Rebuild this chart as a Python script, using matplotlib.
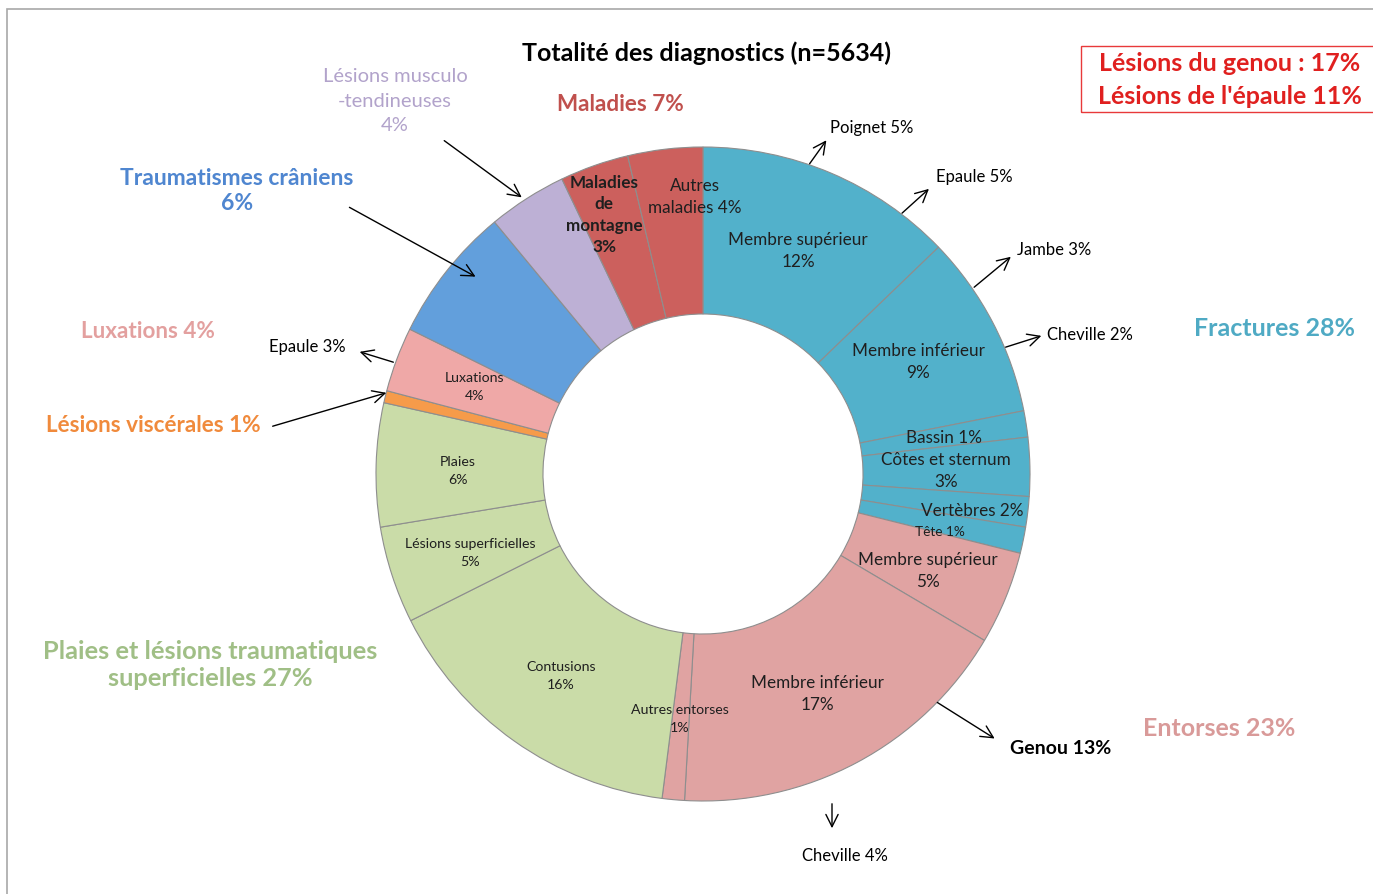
import matplotlib.pyplot as plt
import matplotlib.patches as mpatches

plt.rcParams['font.family'] = ['Lato', 'DejaVu Sans']

# Segment shares (%), clockwise from the top, as read from the ring
segments = ['Fr. membre supérieur', 'Fr. membre inférieur', 'Bassin', 'Côtes et sternum',
            'Vertèbres', 'Tête', 'Ent. membre supérieur', 'Ent. membre inférieur',
            'Autres entorses', 'Contusions', 'Lésions superficielles', 'Plaies',
            'Lésions viscérales', 'Luxations', 'Traumatismes crâniens',
            'Lésions musculo-tendineuses', 'Maladies de montagne', 'Autres maladies']
shares = [12.8, 9.1, 1.3, 2.9, 1.5, 1.3, 4.6, 17.4, 1.1, 15.6, 4.8, 6.1,
          0.6, 3.2, 6.7, 3.9, 3.4, 3.7]
groups = ['frac'] * 6 + ['ent'] * 3 + ['plaie'] * 3 + ['visc', 'lux', 'trauma', 'musc', 'mal', 'mal']

fill = {'frac': '#52B1CB', 'ent': '#E0A3A2', 'plaie': '#CADCA8', 'visc': '#F69B4A',
        'lux': '#EFA8A7', 'trauma': '#629FDC', 'musc': '#BDB0D5', 'mal': '#CC605D'}

W, H = 1373, 895


def Y(y):
    # pixel row -> data y
    return H - y


fig = plt.figure(figsize=(W / 100, H / 100), dpi=100)
ax = fig.add_axes([0, 0, 1, 1])

cx, cy, r_out, r_in = 703, 475, 327, 160
ax.pie(shares, colors=[fill[g] for g in groups], startangle=90, counterclock=False,
       radius=r_out, center=(cx, Y(cy)),
       wedgeprops=dict(width=r_out - r_in, edgecolor='#8E8E8E', linewidth=0.8))
ax.set_xlim(0, W)
ax.set_ylim(0, H)
ax.set_aspect('equal')
ax.axis('off')

# frame around the chart
ax.add_patch(mpatches.Rectangle((7, Y(900)), 1380, 890, fill=False, edgecolor='#A8A8A8', lw=1.2))

dark = '#1F1F1F'

# labels inside the ring
inner = [
    ('Autres\nmaladies 4%', 695, 197, 12.3, 'normal'),
    ('Maladies\nde\nmontagne\n3%', 604, 215, 12.3, 'bold'),
    ('Membre supérieur\n12%', 798, 251, 12.3, 'normal'),
    ('Membre inférieur\n9%', 918, 362, 12.3, 'normal'),
    ('Bassin 1%', 944, 438, 12.3, 'normal'),
    ('Côtes et sternum\n3%', 946, 471, 12.3, 'normal'),
    ('Vertèbres 2%', 972, 511, 12.3, 'normal'),
    ('Tête 1%', 940, 532, 9.8, 'normal'),
    ('Membre supérieur\n5%', 928, 571, 12.3, 'normal'),
    ('Membre inférieur\n17%', 817, 694, 12.3, 'normal'),
    ('Autres entorses\n1%', 680, 719, 10.2, 'normal'),
    ('Contusions\n16%', 561, 676, 10.2, 'normal'),
    ('Lésions superficielles\n5%', 470, 553, 10.2, 'normal'),
    ('Plaies\n6%', 458, 471, 10.2, 'normal'),
    ('Luxations\n4%', 475, 387, 10.2, 'normal'),
]
for txt, x, y, fs, fw in inner:
    ls = 1.4 if fs > 11 else 1.6
    ax.text(x, Y(y), txt, ha='center', va='center', fontsize=fs, fontweight=fw,
            color=dark, linespacing=ls)

# arrow call-outs: text, text pos, arrow start, arrow tip, alignment, weight, size
arr = dict(arrowstyle='->', color='black', lw=1.0, mutation_scale=22)
callouts = [
    ('Poignet 5%', 830, 128, 808, 167, 828, 139, 'left', 'normal', 12),
    ('Epaule 5%', 936, 177, 900, 216, 931, 188, 'left', 'normal', 12),
    ('Jambe 3%', 1017, 250, 972, 290, 1013, 256, 'left', 'normal', 12),
    ('Cheville 2%', 1047, 335, 1003, 349, 1044, 336, 'left', 'normal', 12),
    ('Genou 13%', 1010, 749, 935, 702, 997, 741, 'left', 'bold', 14),
    ('Cheville 4%', 845, 856, 832, 802, 832, 832, 'center', 'normal', 12),
    ('Epaule 3%', 346, 347, 396, 364, 357, 352, 'right', 'normal', 12),
]
for txt, tx, ty, x0, y0, x1, y1, ha, fw, fs in callouts:
    ax.text(tx, Y(ty), txt, ha=ha, va='center', fontsize=fs, fontweight=fw, color='black')
    ax.annotate('', xy=(x1, Y(y1)), xytext=(x0, Y(y0)), arrowprops=arr)

# group headings
ax.text(707, Y(53), 'Totalité des diagnostics (n=5634)', ha='center', va='center',
        fontsize=18, fontweight='bold', color='black')
heads = [
    ('Maladies 7%', 620, 104, '#C0504D', 16.2),
    ('Fractures 28%', 1274, 329, '#4FAAC4', 18),
    ('Entorses 23%', 1219, 729, '#D99A99', 18),
    ('Plaies et lésions traumatiques\nsuperficielles 27%', 210, 665, '#A0BF86', 18.3),
    ('Luxations 4%', 148, 331, '#E3A09F', 16.2),
    ('Traumatismes crâniens\n6%', 237, 191, '#4F86D0', 16.5),
    ('Lésions viscérales 1%', 153, 425, '#F08A3C', 16.2),
]
for txt, x, y, c, fs in heads:
    ax.text(x, Y(y), txt, ha='center', va='center', fontsize=fs, fontweight='bold',
            color=c, linespacing=1.25)
ax.text(395, Y(101), 'Lésions musculo\n-tendineuses\n4%', ha='center', va='center',
        fontsize=14.5, color='#B2A3CB', linespacing=1.55)

# head-line arrows
ax.annotate('', xy=(524, Y(200)), xytext=(442, Y(140)), arrowprops=arr)
ax.annotate('', xy=(478, Y(279)), xytext=(347, Y(207)), arrowprops=arr)
ax.annotate('', xy=(389, Y(393)), xytext=(270, Y(428)), arrowprops=arr)

# top-right box
ax.add_patch(mpatches.Rectangle((1081, Y(113)), 300, 66, fill=False, edgecolor='#E8393A', lw=1))
ax.text(1230, Y(63), 'Lésions du genou : 17%', ha='center', va='center', fontsize=18,
        fontweight='bold', color='#E0201F')
ax.text(1230, Y(96), "Lésions de l'épaule 11%", ha='center', va='center', fontsize=18,
        fontweight='bold', color='#E0201F')

fig.savefig('out.png', dpi=100)
